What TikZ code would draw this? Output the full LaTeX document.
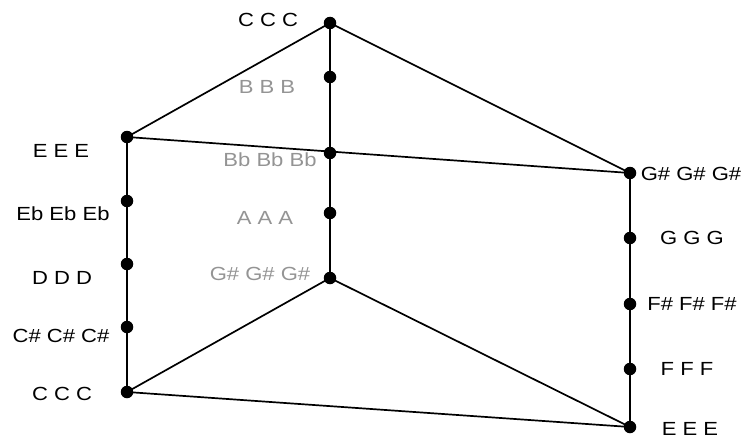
\documentclass[tikz,border=0pt]{standalone}
\usepackage{fontspec}
\setmainfont{Liberation Sans}
\begin{document}
\begin{tikzpicture}[x=1pt,y=-1pt,
  dot/.style={circle,fill=black,inner sep=0pt,minimum size=12.5pt},
  lab/.style={inner sep=0pt,font=\fontsize{19}{19}\selectfont},
  glab/.style={lab,text=black!42},
  edge/.style={line width=1.7pt,black}]
\useasboundingbox (0,0) rectangle (744,444);
\newcommand{\wide}[1]{\scalebox{1.16}[1]{#1}}
% dots
\node[dot] (mC)  at (330,23) {};
\node[dot] (mB)  at (330,77) {};
\node[dot] (mBb) at (330,153) {};
\node[dot] (mA)  at (330,213) {};
\node[dot] (mG)  at (330,278) {};
\node[dot] (lE)  at (127,137) {};
\node[dot] (lEb) at (127,201) {};
\node[dot] (lD)  at (127,264) {};
\node[dot] (lCs) at (127,327) {};
\node[dot] (lC)  at (127,392) {};
\node[dot] (rGs) at (630,173) {};
\node[dot] (rG)  at (630,238) {};
\node[dot] (rFs) at (630,304) {};
\node[dot] (rF)  at (630,369) {};
\node[dot] (rE)  at (630,427) {};
% edges
\draw[edge] (mC.center) -- (lE.center);
\draw[edge] (mC.center) -- (rGs.center);
\draw[edge] (mC.center) -- (mG.center);
\draw[edge] (lE.center) -- (rGs.center);
\draw[edge] (lE.center) -- (lC.center);
\draw[edge] (rGs.center) -- (rE.center);
\draw[edge] (mG.center) -- (lC.center);
\draw[edge] (mG.center) -- (rE.center);
\draw[edge] (lC.center) -- (rE.center);
% labels
\node[lab] (tC) at (268,20) {\wide{C C C}};
\node[glab] (tB) at (267,87) {\wide{B B B}};
\node[glab] (tBb) at (270,160) {\wide{Bb Bb Bb}};
\node[glab] (tA) at (265,218) {\wide{A A A}};
\node[glab] (tG) at (260,274) {\wide{G\# G\# G\#}};
\node[lab] (tlE) at (61,151) {\wide{E E E}};
\node[lab] (tlEb) at (63,214) {\wide{Eb Eb Eb}};
\node[lab] (tlD) at (62,278) {\wide{D D D}};
\node[lab] (tlCs) at (61,336) {\wide{C\# C\# C\#}};
\node[lab] (tlC) at (62,394) {\wide{C C C}};
\node[lab] (trGs) at (691,174) {\wide{G\# G\# G\#}};
\node[lab] (trG) at (692,238) {\wide{G G G}};
\node[lab] (trFs) at (692,304) {\wide{F\# F\# F\#}};
\node[lab] (trF) at (687,369) {\wide{F F F}};
\node[lab] (trE) at (690,429) {\wide{E E E}};
\end{tikzpicture}
\end{document}
